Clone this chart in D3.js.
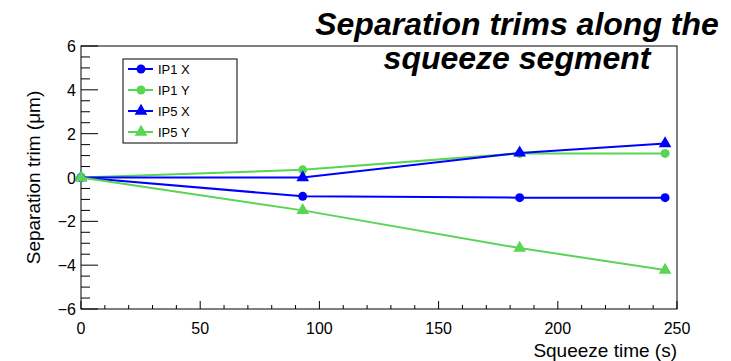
<!DOCTYPE html>
<html>
<head>
<meta charset="utf-8">
<script src="https://cdn.jsdelivr.net/npm/d3@7"></script>
<style>
  body { margin: 0; background: #fff; }
  svg { font-family: "Liberation Sans", Arial, sans-serif; }
</style>
</head>
<body>
<svg id="chart"></svg>
<script>
const times = [0, 93, 184, 245];
const ip1X = [0, -0.86, -0.92, -0.92];
const ip1Y = [0, 0.35, 1.1, 1.1];
const ip5X = [0, 0, 1.12, 1.55];
const ip5Y = [0, -1.5, -3.22, -4.22];
const seriesNames = ['IP1 X', 'IP1 Y', 'IP5 X', 'IP5 Y'];
const xTicks = [0, 50, 100, 150, 200, 250];
const yTicks = [-6, -4, -2, 0, 2, 4, 6];

const blue = '#0000ff';
const green = '#59d454';
const series = [
    { name: seriesNames[0], values: ip1X, color: blue, marker: 'circle' },
    { name: seriesNames[1], values: ip1Y, color: green, marker: 'circle' },
    { name: seriesNames[2], values: ip5X, color: blue, marker: 'triangle' },
    { name: seriesNames[3], values: ip5Y, color: green, marker: 'triangle' }
];

const W = 731, H = 361;
const margin = { top: 46, right: 54, bottom: 52, left: 81 };
const width = W - margin.left - margin.right;
const height = H - margin.top - margin.bottom;

const svg = d3.select('#chart').attr('width', W).attr('height', H);
const g = svg.append('g').attr('transform', `translate(${margin.left},${margin.top})`);

const x = d3.scaleLinear().domain([0, 250]).range([0, width]);
const y = d3.scaleLinear().domain([-6, 6]).range([height, 0]);

// frame
g.append('rect')
    .attr('x', 0).attr('y', 0)
    .attr('width', width).attr('height', height)
    .attr('fill', 'none').attr('stroke', '#000').attr('stroke-width', 1);

// ticks point inward, ROOT style
const fmt = d => d < 0 ? '\u2212' + Math.abs(d) : String(d);

const xAxis = g.append('g').attr('transform', `translate(0,${height})`);
xAxis.selectAll('line.minor')
    .data(d3.range(0, 251, 10))
    .enter().append('line')
    .attr('x1', d => x(d)).attr('x2', d => x(d))
    .attr('y1', 0).attr('y2', d => d % 50 === 0 ? -8 : -4)
    .attr('stroke', '#000');
xAxis.selectAll('text')
    .data(xTicks)
    .enter().append('text')
    .attr('x', d => x(d)).attr('y', 25)
    .attr('text-anchor', 'middle')
    .style('font-size', '16px')
    .text(fmt);

const yAxis = g.append('g');
yAxis.selectAll('line')
    .data(d3.range(-6, 6.01, 0.5))
    .enter().append('line')
    .attr('y1', d => y(d)).attr('y2', d => y(d))
    .attr('x1', 0).attr('x2', d => Math.abs(d % 2) < 1e-9 ? 17 : 9)
    .attr('stroke', '#000');
yAxis.selectAll('text')
    .data(yTicks)
    .enter().append('text')
    .attr('x', -5).attr('y', d => y(d) + 6)
    .attr('text-anchor', 'end')
    .style('font-size', '16px')
    .text(fmt);

// axis titles
svg.append('text')
    .attr('x', margin.left + width).attr('y', 357)
    .attr('text-anchor', 'end')
    .style('font-size', '19px')
    .text('Squeeze time (s)');

svg.append('text')
    .attr('transform', `translate(40,${margin.top + height / 2}) rotate(-90)`)
    .attr('text-anchor', 'middle')
    .style('font-size', '19px')
    .text('Separation trim (\u03bcm)');

// series
const line = d3.line().x((d, i) => x(times[i])).y(d => y(d));
const tri = d3.symbol().type(d3.symbolTriangle).size(70);

function drawMarker(sel, s) {
    if (s.marker === 'circle') {
        sel.append('circle').attr('r', 4.5).attr('fill', s.color);
    } else {
        sel.append('path').attr('d', tri).attr('fill', s.color);
    }
}

series.forEach(s => {
    g.append('path')
        .datum(s.values)
        .attr('d', line)
        .attr('fill', 'none')
        .attr('stroke', s.color)
        .attr('stroke-width', 2);
    g.selectAll(null)
        .data(s.values)
        .enter().append('g')
        .attr('transform', (d, i) => `translate(${x(times[i])},${y(d)})`)
        .each(function () { drawMarker(d3.select(this), s); });
});

// legend
const legend = svg.append('g').attr('transform', 'translate(123,59)');
legend.append('rect')
    .attr('width', 114).attr('height', 84)
    .attr('fill', '#fff').attr('stroke', '#000').attr('stroke-width', 1);
series.forEach((s, i) => {
    const row = legend.append('g').attr('transform', `translate(0,${10 + i * 21})`);
    row.append('line')
        .attr('x1', 5).attr('x2', 30)
        .attr('stroke', s.color).attr('stroke-width', 2);
    drawMarker(row.append('g').attr('transform', 'translate(18,0)'), s);
    row.append('text')
        .attr('x', 35).attr('y', 5)
        .style('font-size', '13px')
        .text(s.name);
});

// title
const title = svg.append('text')
    .attr('text-anchor', 'middle')
    .style('font-size', '32px')
    .style('font-weight', 'bold')
    .style('font-style', 'italic');
title.append('tspan').attr('x', 517).attr('y', 35).text('Separation trims along the');
title.append('tspan').attr('x', 517).attr('y', 69).text('squeeze segment');
</script>
</body>
</html>
